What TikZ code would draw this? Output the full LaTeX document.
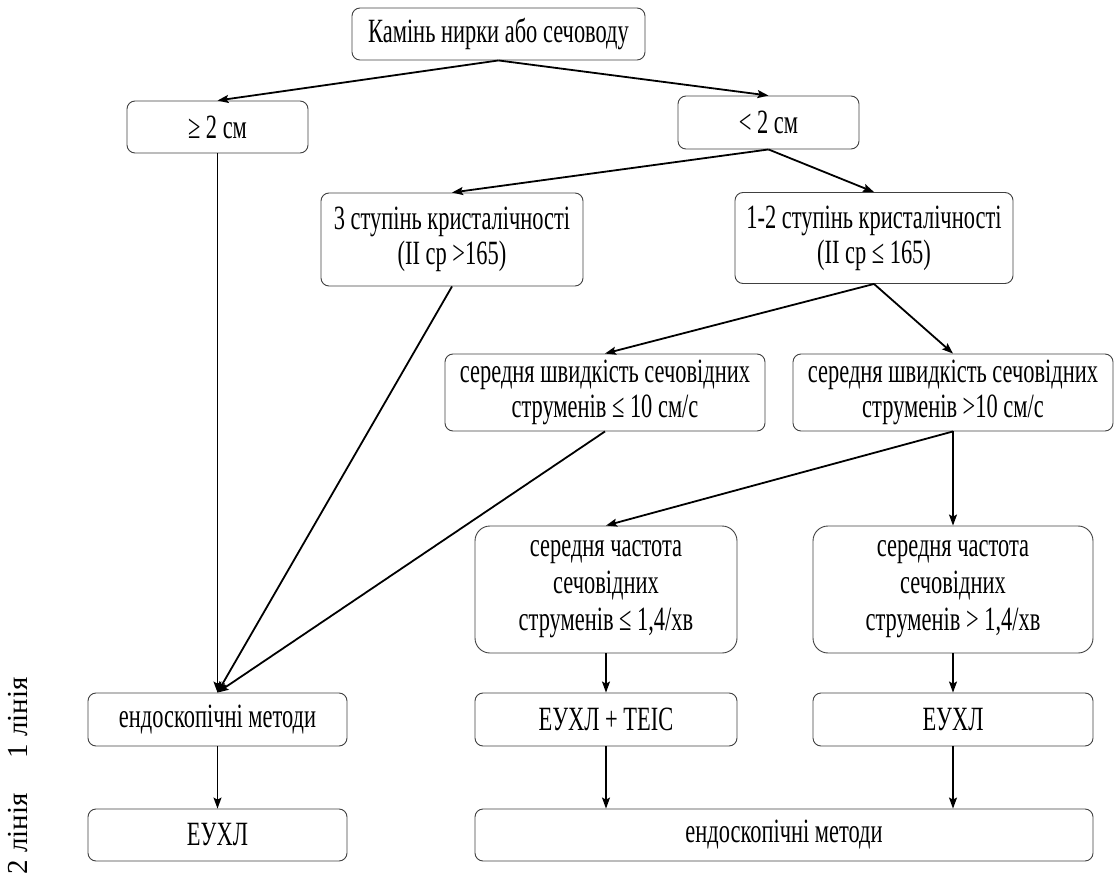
\documentclass[tikz,border=0pt]{standalone}
\usepackage{fontspec}
\setmainfont{Liberation Serif}[FakeStretch=0.66]
\newfontfamily\sidefont{Liberation Serif}
\usetikzlibrary{arrows.meta,shapes}

\begin{document}
\begin{tikzpicture}[x=1pt,y=-1pt,
  box/.style={draw=black!75,line width=0.9pt,rounded corners=8pt,inner sep=0pt,
    align=center,font=\fontsize{34}{35}\selectfont},
  tallbox/.style={box,rounded corners=15pt},
  flow/.style={-{Stealth[length=11pt,width=8pt,inset=2pt]},line width=1.8pt},
  drop/.style={flow,line width=1.2pt},
  side/.style={rotate=90,font=\sidefont\fontsize{29}{30}\selectfont}]
  \useasboundingbox (0,0) rectangle (1114,877);

  \node[box,minimum width=293pt,minimum height=52pt] (stone) at (498.5,34) {Камінь нирки або сечоводу};
  \node[box,minimum width=181pt,minimum height=52pt] (ge) at (217.5,127) {≥ 2 см};
  \node[box,minimum width=181pt,minimum height=53pt] (lt) at (768.5,122.5) {< 2 см};
  \node[box,minimum width=262pt,minimum height=93pt] (degA) at (452,239.5) {3 ступінь кристалічності\\(ІІ ср >165)};
  \node[box,minimum width=278pt,minimum height=91pt] (degB) at (874,238) {1-2 ступінь кристалічності\\(ІІ ср ≤ 165)};
  \node[box,minimum width=320pt,minimum height=77pt] (speedA) at (605,392.5) {середня швидкість сечовідних\\струменів ≤ 10 см/с};
  \node[box,minimum width=320pt,minimum height=77pt] (speedB) at (953,392.5) {середня швидкість сечовідних\\струменів >10 см/с};
  \node[tallbox,minimum width=262pt,minimum height=127pt,font=\fontsize{34}{37}\selectfont] (freqA) at (606,589.5) {середня частота\\сечовідних\\струменів ≤ 1,4/хв};
  \node[tallbox,minimum width=280pt,minimum height=127pt,font=\fontsize{34}{37}\selectfont] (freqB) at (953,589.5) {середня частота\\сечовідних\\струменів > 1,4/хв};

  \node[box,minimum width=259pt,minimum height=53pt] (endoA) at (217.5,719.5) {ендоскопічні методи};
  \node[box,minimum width=262pt,minimum height=53pt] (combo) at (606,719.5) {ЕУХЛ + TEIC};
  \node[box,minimum width=280pt,minimum height=53pt] (euxlB) at (953,719.5) {ЕУХЛ};
  \node[box,minimum width=259pt,minimum height=52pt] (euxlA) at (217.5,835) {ЕУХЛ};
  \node[box,minimum width=618pt,minimum height=52pt] (endoB) at (784,835) {ендоскопічні методи};

  \node[side] (first) at (18,718) {1 лінія};
  \node[side] (second) at (18,834) {2 лінія};

  \path[flow]
    (stone.south) edge (ge.north)
    (stone.south) edge (lt.north)
    (lt.south) edge (degA.north)
    (lt.south) edge (degB.north)
    (degB.south) edge (speedA.north)
    (degB.south) edge (speedB.north)
    (speedB.south) edge (freqA.north)
    (degA.south) edge (endoA.north)
    (speedA.south) edge (endoA.north);
  \path[drop]
    (speedB.south) edge (freqB.north)
    (ge.south) edge (endoA.north)
    (endoA.south) edge (euxlA.north)
    (freqA.south) edge (combo.north)
    (freqB.south) edge (euxlB.north)
    (combo.south) edge (endoB.north -| combo.south)
    (euxlB.south) edge (endoB.north -| euxlB.south);
\end{tikzpicture}
\end{document}
